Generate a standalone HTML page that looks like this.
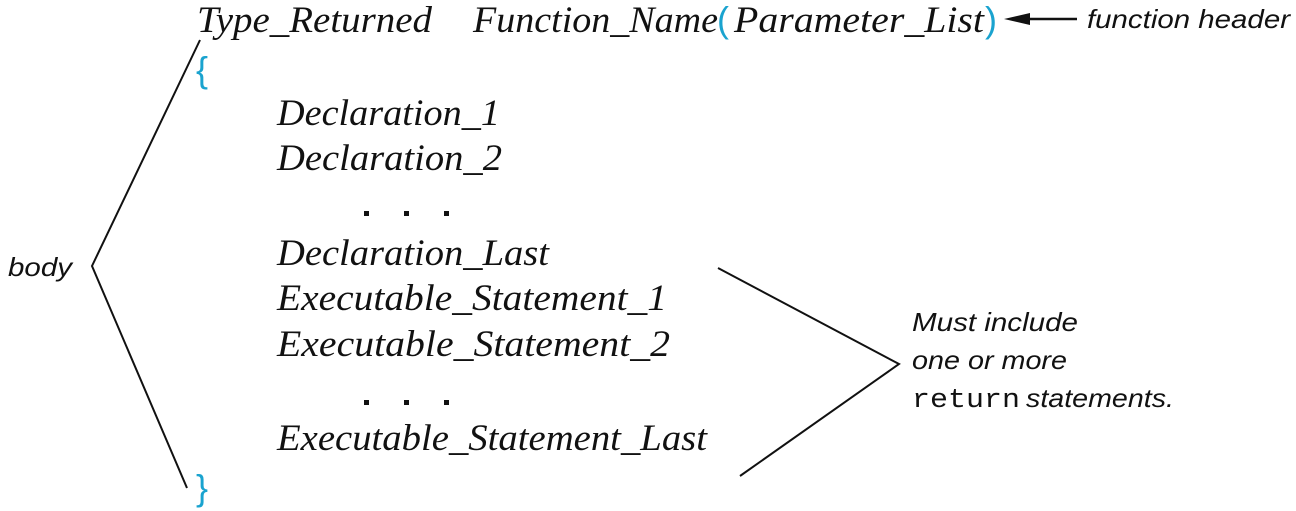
<!DOCTYPE html>
<html><head><meta charset="utf-8"><style>
html,body{margin:0;padding:0;background:#fff;}
svg{display:block;}
.ser{font-family:"Liberation Serif",serif;font-style:italic;font-size:37px;fill:#111;}
.san{font-family:"Liberation Sans",sans-serif;font-style:italic;font-size:26px;fill:#111;}
.mono{font-family:"Liberation Mono",monospace;font-style:normal;font-size:27px;}
.cy{fill:#1aa3cf;font-style:normal;}
</style></head><body>
<svg width="1296" height="511" viewBox="0 0 1296 511">
<text class="ser" x="197" y="32" textLength="235" lengthAdjust="spacingAndGlyphs">Type_Returned</text>
<text class="ser" x="473" y="32" textLength="245" lengthAdjust="spacingAndGlyphs">Function_Name</text>
<text class="cy" x="717" y="32" style="font-family:'Liberation Sans',sans-serif;font-size:36px">(</text>
<text class="ser" x="734" y="32" textLength="250" lengthAdjust="spacingAndGlyphs">Parameter_List</text>
<text class="cy" x="985" y="32" style="font-family:'Liberation Sans',sans-serif;font-size:36px">)</text>
<g>
<line x1="1025" y1="19" x2="1077" y2="19" stroke="#111" stroke-width="2.5"/>
<polygon points="1004,19 1030,13 1030,25" fill="#111"/>
</g>
<text class="san" x="1087" y="28" textLength="203" lengthAdjust="spacingAndGlyphs">function header</text>
<text class="cy" x="196" y="82" style="font-family:'Liberation Sans',sans-serif;font-size:36px">{</text>
<text class="cy" x="196" y="500" style="font-family:'Liberation Sans',sans-serif;font-size:36px">}</text>
<text class="ser" x="277" y="125" textLength="223" lengthAdjust="spacingAndGlyphs">Declaration_1</text>
<text class="ser" x="277" y="170" textLength="225" lengthAdjust="spacingAndGlyphs">Declaration_2</text>
<g fill="#111">
<rect x="364" y="211" width="5" height="5"/><rect x="404" y="211" width="5" height="5"/><rect x="444" y="211" width="5" height="5"/>
</g>
<text class="ser" x="277" y="265" textLength="272" lengthAdjust="spacingAndGlyphs">Declaration_Last</text>
<text class="ser" x="277" y="310" textLength="390" lengthAdjust="spacingAndGlyphs">Executable_Statement_1</text>
<text class="ser" x="277" y="356" textLength="393" lengthAdjust="spacingAndGlyphs">Executable_Statement_2</text>
<g fill="#111">
<rect x="364" y="400" width="5" height="5"/><rect x="404" y="400" width="5" height="5"/><rect x="444" y="400" width="5" height="5"/>
</g>
<text class="ser" x="277" y="450" textLength="430" lengthAdjust="spacingAndGlyphs">Executable_Statement_Last</text>
<polyline points="200,40 92,266 187,488" fill="none" stroke="#111" stroke-width="2"/>
<text class="san" x="8" y="276" textLength="64" lengthAdjust="spacingAndGlyphs">body</text>
<polyline points="718,268 899,364 740,476" fill="none" stroke="#111" stroke-width="2"/>
<text class="san" x="912" y="331" textLength="166" lengthAdjust="spacingAndGlyphs">Must include</text>
<text class="san" x="912" y="369" textLength="155" lengthAdjust="spacingAndGlyphs">one or more</text>
<text class="san" x="912" y="407"><tspan class="mono" textLength="108" lengthAdjust="spacingAndGlyphs">return</tspan><tspan dx="6" textLength="148" lengthAdjust="spacingAndGlyphs">statements.</tspan></text>
</svg>
</body></html>
